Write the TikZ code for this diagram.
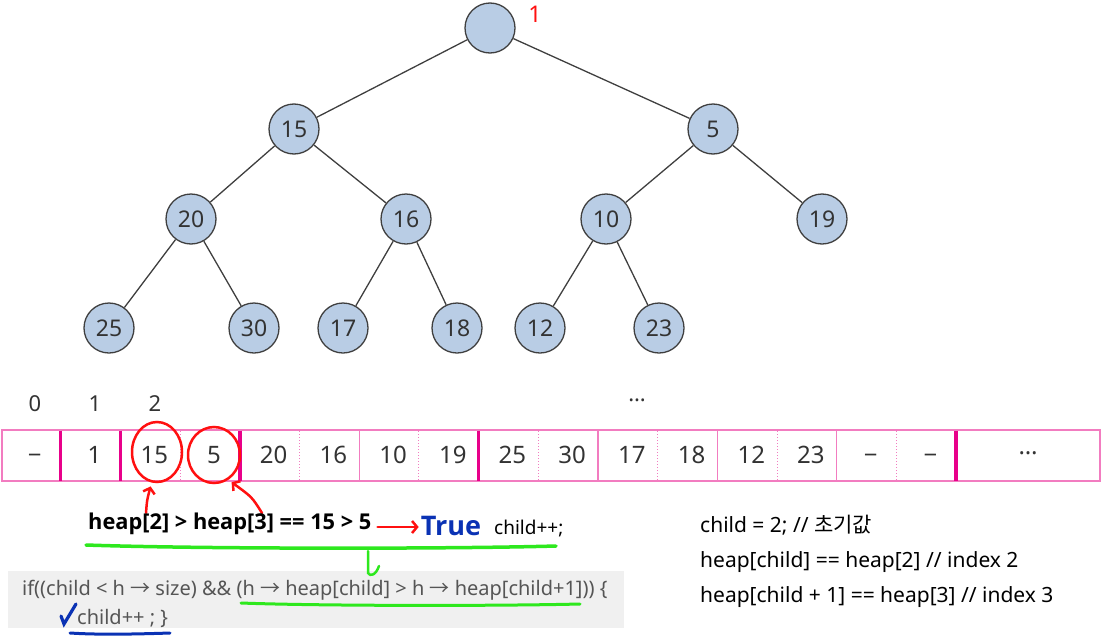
\documentclass[tikz,border=0pt]{standalone}
\usepackage{fontspec}
\setmainfont{Noto Sans}
\newfontfamily\krfont{Noto Sans CJK KR}
\newfontfamily\osans{Open Sans}
\usetikzlibrary{arrows.meta,shapes.geometric}
\definecolor{nodefill}{HTML}{B9CDE5}
\definecolor{nodeedge}{HTML}{3F3F3F}
\definecolor{txt}{HTML}{333333}
\definecolor{pinkthin}{HTML}{F27CC0}
\definecolor{pinkthick}{HTML}{E8008A}
\definecolor{hlred}{HTML}{FF1010}
\definecolor{hlgreen}{HTML}{2EE81E}
\definecolor{hlblue}{HTML}{0A32B4}
\definecolor{codebg}{HTML}{F0F0F0}
\definecolor{codetxt}{HTML}{555555}
\newcommand\arw{{\krfont →}}
\begin{document}
\begin{tikzpicture}[x=1pt,y=-1pt,
  hnode/.style={circle,draw=nodeedge,fill=nodefill,line width=1.3pt,minimum size=50pt,inner sep=0pt,font=\fontsize{23}{24}\selectfont,text=txt},
  tedge/.style={draw=nodeedge,line width=1.3pt},
  cell/.style={inner sep=0pt,font=\fontsize{24}{28}\selectfont,text=txt},
  idx/.style={inner sep=0pt,font=\fontsize{22}{24}\selectfont,text=txt},
  thickbar/.style={draw=pinkthick,line width=3.5pt},
  thinbar/.style={draw=pinkthin,line width=1.2pt},
  dotbar/.style={draw=pinkthin,line width=1pt,dotted},
  redcirc/.style={ellipse,draw=hlred,line width=2.5pt,inner sep=0pt},
  redarr/.style={draw=hlred,line width=2.5pt,line cap=round,-{Straight Barb[length=5pt,width=12pt]}},
  greenline/.style={draw=hlgreen,line width=3.5pt,line cap=round},
  blueline/.style={draw=hlblue,line width=3pt,line cap=round},
  codetext/.style={anchor=west,inner sep=0pt,text=codetxt,font=\fontsize{20}{22}\selectfont},
  note/.style={anchor=west,inner sep=0pt,text=black,font=\fontsize{21}{24}\selectfont}
]
\useasboundingbox (0,0) rectangle (1102,637);

% ---- tree ----
\node[hnode] (n1) at (490,28) {};
\node[anchor=center,text=hlred,font=\fontsize{23}{24}\selectfont,inner sep=0pt] (lab1) at (535,14) {1};
\node[hnode] (n2) at (294,129) {15};
\node[hnode] (n3) at (713,129) {5};
\node[hnode] (n4) at (191,219) {20};
\node[hnode] (n5) at (406,219) {16};
\node[hnode] (n6) at (606,219) {10};
\node[hnode] (n7) at (822,219) {19};
\node[hnode] (n8) at (109,328) {25};
\node[hnode] (n9) at (254,328) {30};
\node[hnode] (n10) at (343,328) {17};
\node[hnode] (n11) at (457,328) {18};
\node[hnode] (n12) at (540,328) {12};
\node[hnode] (n13) at (659,328) {23};
\draw[tedge] (n1) -- (n2);
\draw[tedge] (n1) -- (n3);
\draw[tedge] (n2) -- (n4);
\draw[tedge] (n2) -- (n5);
\draw[tedge] (n3) -- (n6);
\draw[tedge] (n3) -- (n7);
\draw[tedge] (n4) -- (n8);
\draw[tedge] (n4) -- (n9);
\draw[tedge] (n5) -- (n10);
\draw[tedge] (n5) -- (n11);
\draw[tedge] (n6) -- (n12);
\draw[tedge] (n6) -- (n13);

% ---- index labels ----
\node[idx] (i0) at (35,404) {0};
\node[idx] (i1) at (95,404) {1};
\node[idx] (i2) at (155,404) {2};
\node[idx] (idots) at (637,400) {…};

% ---- array ----
\draw[thinbar] (2,430) rectangle (1100,481);
\foreach \k in {1,2,4,8,16} \draw[thickbar] ({1+59.7*\k},430.5) -- ({1+59.7*\k},480.5);
\foreach \k in {6,10,12,14} \draw[thinbar] ({1+59.7*\k},430) -- ({1+59.7*\k},481);
\foreach \k in {3,5,7,9,11,13,15} \draw[dotbar] ({1+59.7*\k},431) -- ({1+59.7*\k},480);
\foreach \k in {0,14,15}
  \node[cell,yshift=-4pt] (c\k) at ({34.85+59.7*\k},455) {−};
\foreach \v [count=\k from 1] in {1,15,5,20,16,10,19,25,30,17,18,12,23}
  \node[cell] (c\k) at ({34.85+59.7*\k},455) {\v};
\node[cell] (cdots) at (1028,453) {…};

% ---- red annotations ----
\node[redcirc,minimum width=50pt,minimum height=60pt] (r15) at (157,452) {};
\node[redcirc,minimum width=52pt,minimum height=56pt] (r5) at (214,455) {};
\coordinate (a1) at (146,513);
\coordinate (a2) at (262,513);
\draw[redarr,shorten >=4pt] (a1) .. controls (147,500) .. (r15.-100);
\draw[redarr,shorten >=4pt] (a2) .. controls (252,497) .. (r5.-60);

% ---- code box ----
\node[fill=codebg,anchor=north west,minimum width=616pt,minimum height=57pt,inner sep=0pt] (box) at (8,571) {};

% ---- condition line ----
\node[anchor=west,inner sep=0pt,font=\osans\bfseries\fontsize{21.8}{24}\selectfont] (cond) at (88,524) {heap[2] > heap[3] == 15 > 5};
\node[inner sep=0pt,text=hlblue,font=\osans\bfseries\fontsize{27}{30}\selectfont] (tru) at (451,526) {True};
\node[anchor=west,inner sep=0pt,font=\fontsize{19}{22}\selectfont] (inc) at (494,528) {child++;};
\draw[redarr] ([xshift=6pt,yshift=-3pt]cond.east) -- ([xshift=-2pt,yshift=-1pt]tru.west);
\coordinate (g1) at (86,545);
\coordinate (g2) at (556,546);
\draw[greenline] (g1) .. controls (200,549) and (450,549) .. (g2);
\coordinate (g3) at (368,551);
\coordinate (g4) at (379,566);
\draw[greenline,line width=2.5pt] (g3) -- (368,573) .. controls (370,577) and (376,575) .. (g4);

% ---- code text ----
\node[codetext] (code1) at (22,590) {if((child < h \arw{} size) \&\& (h \arw{} heap[child] > h \arw{} heap[child+1])) \{};
\node[codetext] (code2) at (77,618) {child++ ; \}};
\coordinate (u1) at (241,603);
\coordinate (u2) at (580,604);
\draw[greenline,line width=3pt] (u1) .. controls (320,606) and (500,606) .. (u2);
\coordinate (b1) at (70,633);
\coordinate (b2) at (170,633);
\draw[blueline] (b1) .. controls (100,635) and (140,634) .. (b2);
\coordinate (k1) at (61,616);
\coordinate (k2) at (76,604);
\draw[blueline,line width=3.2pt] (k1) -- (64,624) -- (k2);

% ---- notes ----
\node[note] (t1) at (700,525) {child = 2; // {\krfont 초기값}};
\node[note] (t2) at (700,562) {heap[child] == heap[2] // index 2};
\node[note] (t3) at (700,597) {heap[child + 1] == heap[3] // index 3};
\end{tikzpicture}
\end{document}
